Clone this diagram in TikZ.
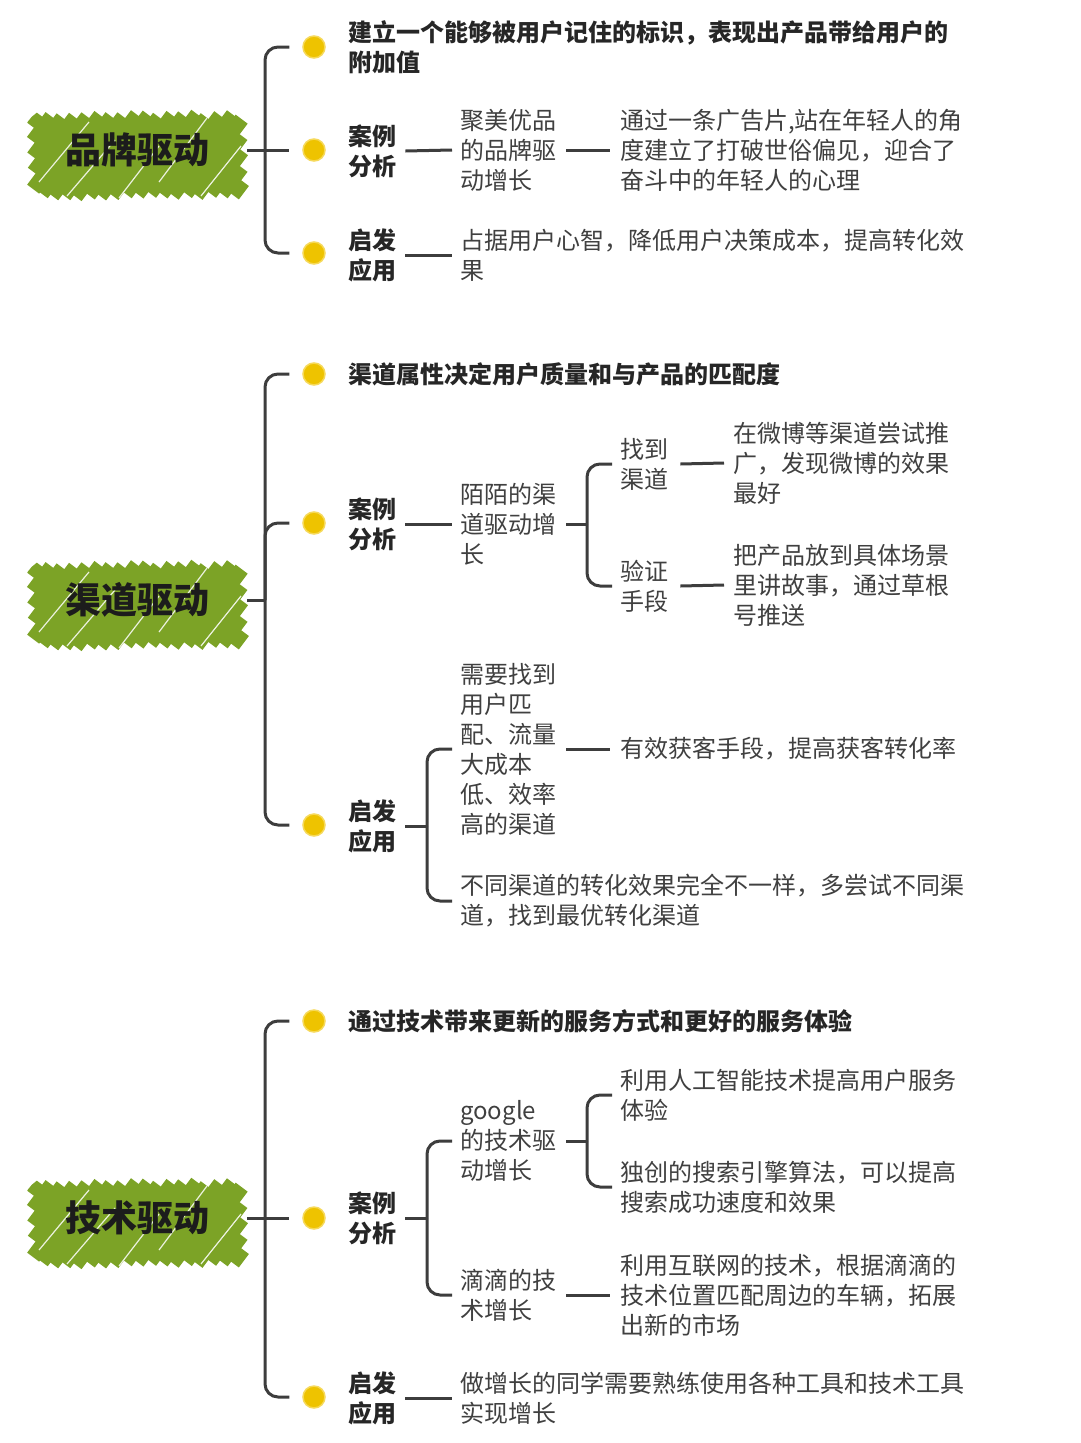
\documentclass[tikz,border=0pt]{standalone}
\usepackage{fontspec}
\newfontfamily\cjk{Noto Sans CJK SC}
\definecolor{linegray}{HTML}{3D3D3D}
\definecolor{dotyellow}{HTML}{EEC300}
\definecolor{dotrim}{HTML}{F6D95A}
\definecolor{textcol}{HTML}{404040}
\definecolor{labelcol}{HTML}{262626}
\definecolor{rootcol}{HTML}{1C1C1C}
\definecolor{scribgreen}{HTML}{7CA326}
\tikzset{
  conn/.style={draw=linegray, line width=3pt, rounded corners=13pt},
  dot/.style={circle, fill=dotyellow, draw=dotrim, line width=1.5pt, minimum size=22pt, inner sep=0pt},
  lbl/.style={anchor=west, inner sep=0pt, align=left, font=\cjk\bfseries\fontsize{24}{30}\selectfont, text=labelcol},
  txt/.style={anchor=west, inner sep=0pt, align=left, font=\cjk\fontsize{24}{30}\selectfont, text=textcol},
  rootlbl/.style={inner sep=0pt, minimum width=220pt, minimum height=80pt, font=\cjk\bfseries\fontsize{36}{40}\selectfont, text=rootcol},
  scrib/.style={draw=scribgreen, line width=15pt, line cap=butt},
  scribgap/.style={draw=white, line width=1.2pt, opacity=0.85},
}
\newcommand\greenscribble[2]{%
  \begin{scope}[shift={(#1,#2)}]
    \begin{scope}
      \clip[rounded corners=30pt] (-114,-44) rectangle (118,52);
      \pgfmathsetseed{11}
      \foreach \t in {-124,-112,...,128} {
        \pgfmathsetmacro\ya{max(-34,(\t-104)/0.75) - 4*rnd}
        \pgfmathsetmacro\yb{min(41,(\t+102)/0.75) + 4*rnd}
        \draw[scrib] ({\t-0.75*\yb},\yb) -- ({\t-0.75*\ya},\ya);
      }
      \draw[scribgap] (-98,30) -- (-48,-30);
      \draw[scribgap] (-70,44) -- (-22,-12);
      \draw[scribgap] (-18,46) -- (22,-6);
      \draw[scribgap] (22,30) -- (70,-34);
      \draw[scribgap] (64,44) -- (104,-6);
    \end{scope}
  \end{scope}}
\begin{document}
\begin{tikzpicture}[x=1pt,y=-1pt]
\useasboundingbox (0,0) rectangle (1080,1443);
\fill[white] (0,0) rectangle (1080,1443);

% ================= Section 1 =================
\greenscribble{137}{152}
\node[rootlbl] (r1) at (137,150) {品牌驱动};
\coordinate (b1) at (265,150);
\node[dot] (d11) at (314,47) {};
\node[dot] (d12) at (314,150) {};
\node[dot] (d13) at (314,253) {};
\draw[conn] (r1.east) -- (b1);
\draw[conn] (b1) |- ([xshift=-13pt]d11.west);
\draw[conn] (b1) -- ([xshift=-13pt]d12.west);
\draw[conn] (b1) |- ([xshift=-13pt]d13.west);

\node[lbl] (t11) at (348,47) {建立一个能够被用户记住的标识，表现出产品带给用户的\\附加值};
\node[lbl] (t12) at (348,151) {案例\\分析};
\node[txt] (t121) at (460,150) {聚美优品\\的品牌驱\\动增长};
\node[txt] (t1211) at (620,150) {通过一条广告片,站在年轻人的角\\度建立了打破世俗偏见，迎合了\\奋斗中的年轻人的心理};
\draw[conn] ([xshift=9pt]t12.east) -- ([xshift=-8pt]t121.west);
\draw[conn] ([xshift=10pt]t121.east) -- ([xshift=-10pt]t1211.west);
\node[lbl] (t13) at (348,255) {启发\\应用};
\node[txt] (t131) at (460,255) {占据用户心智，降低用户决策成本，提高转化效\\果};
\draw[conn] ([xshift=9pt]t13.east) -- ([xshift=-8pt]t131.west);

% ================= Section 2 =================
\greenscribble{137}{602}
\node[rootlbl] (r2) at (137,600) {渠道驱动};
\coordinate (b2) at (265,600);
\node[dot] (d21) at (314,374) {};
\node[dot] (d22) at (314,523) {};
\node[dot] (d23) at (314,825) {};
\draw[conn] (r2.east) -- (b2);
\draw[conn] (b2) |- ([xshift=-13pt]d21.west);
\draw[conn] (b2) |- ([xshift=-13pt]d22.west);
\draw[conn] (b2) |- ([xshift=-13pt]d23.west);

\node[lbl] (t21) at (348,374) {渠道属性决定用户质量和与产品的匹配度};
\node[lbl] (t22) at (348,524) {案例\\分析};
\node[txt] (t221) at (460,524) {陌陌的渠\\道驱动增\\长};
\draw[conn] ([xshift=9pt]t22.east) -- ([xshift=-8pt]t221.west);
\coordinate (b22) at (587,524);
\node[txt] (t2211) at (620,464) {找到\\渠道};
\node[txt] (t2212) at (620,586) {验证\\手段};
\draw[conn] ([xshift=10pt]t221.east) -- (b22);
\draw[conn] (b22) |- ([xshift=-8pt]t2211.west);
\draw[conn] (b22) |- ([xshift=-8pt]t2212.west);
\node[txt] (t22111) at (733,463) {在微博等渠道尝试推\\广，发现微博的效果\\最好};
\node[txt] (t22121) at (733,585) {把产品放到具体场景\\里讲故事，通过草根\\号推送};
\draw[conn] ([xshift=12pt]t2211.east) -- ([xshift=-9pt]t22111.west);
\draw[conn] ([xshift=12pt]t2212.east) -- ([xshift=-9pt]t22121.west);

\node[lbl] (t23) at (348,826) {启发\\应用};
\coordinate (b23) at (427,826);
\node[txt] (t231) at (460,749) {需要找到\\用户匹\\配、流量\\大成本\\低、效率\\高的渠道};
\node[txt] (t232) at (460,901) {不同渠道的转化效果完全不一样，多尝试不同渠\\道，找到最优转化渠道};
\draw[conn] ([xshift=9pt]t23.east) -- (b23);
\draw[conn] (b23) |- ([xshift=-8pt]t231.west);
\draw[conn] (b23) |- ([xshift=-8pt]t232.west);
\node[txt] (t2311) at (620,749) {有效获客手段，提高获客转化率};
\draw[conn] ([xshift=10pt]t231.east) -- ([xshift=-10pt]t2311.west);

% ================= Section 3 =================
\greenscribble{137}{1220}
\node[rootlbl] (r3) at (137,1218) {技术驱动};
\coordinate (b3) at (265,1218);
\node[dot] (d31) at (314,1021) {};
\node[dot] (d32) at (314,1218) {};
\node[dot] (d33) at (314,1397) {};
\draw[conn] (r3.east) -- (b3);
\draw[conn] (b3) |- ([xshift=-13pt]d31.west);
\draw[conn] (b3) -- ([xshift=-13pt]d32.west);
\draw[conn] (b3) |- ([xshift=-13pt]d33.west);

\node[lbl] (t31) at (348,1021) {通过技术带来更新的服务方式和更好的服务体验};
\node[lbl] (t32) at (348,1218) {案例\\分析};
\coordinate (b32) at (427,1218);
\node[txt] (t321) at (460,1141) {google\\的技术驱\\动增长};
\node[txt] (t322) at (460,1295) {滴滴的技\\术增长};
\draw[conn] ([xshift=9pt]t32.east) -- (b32);
\draw[conn] (b32) |- ([xshift=-8pt]t321.west);
\draw[conn] (b32) |- ([xshift=-8pt]t322.west);
\coordinate (b321) at (587,1141);
\node[txt] (t3211) at (620,1095) {利用人工智能技术提高用户服务\\体验};
\node[txt] (t3212) at (620,1187) {独创的搜索引擎算法，可以提高\\搜索成功速度和效果};
\draw[conn] ([xshift=10pt]t321.east) -- (b321);
\draw[conn] (b321) |- ([xshift=-8pt]t3211.west);
\draw[conn] (b321) |- ([xshift=-8pt]t3212.west);
\node[txt] (t3221) at (620,1295) {利用互联网的技术，根据滴滴的\\技术位置匹配周边的车辆，拓展\\出新的市场};
\draw[conn] ([xshift=10pt]t322.east) -- ([xshift=-10pt]t3221.west);

\node[lbl] (t33) at (348,1398) {启发\\应用};
\node[txt] (t331) at (460,1398) {做增长的同学需要熟练使用各种工具和技术工具\\实现增长};
\draw[conn] ([xshift=9pt]t33.east) -- ([xshift=-8pt]t331.west);
\end{tikzpicture}
\end{document}
